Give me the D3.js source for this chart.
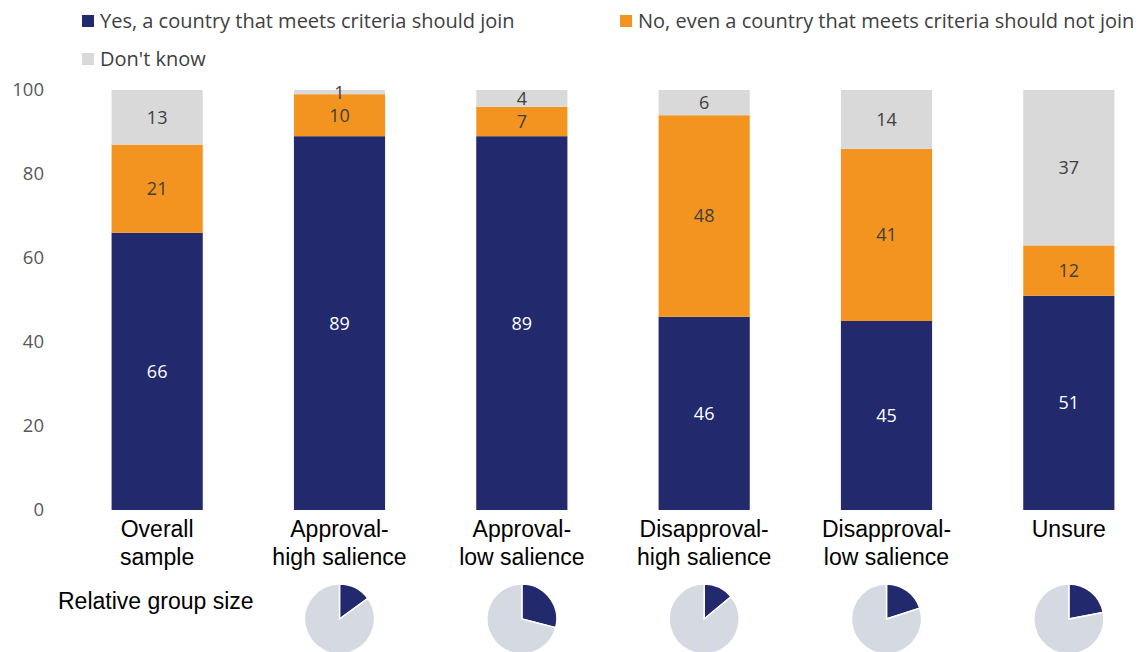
<!DOCTYPE html>
<html><head><meta charset="utf-8">
<script src="https://cdn.jsdelivr.net/npm/d3@7"></script>
<style>body{margin:0;background:#fff}svg{display:block}</style>
</head><body>
<svg id="c" width="1141" height="652"></svg>
<script>
const categories = [["Overall","sample"],["Approval-","high salience"],["Approval-","low salience"],["Disapproval-","high salience"],["Disapproval-","low salience"],["Unsure"]];
const seriesNames = ["Yes, a country that meets criteria should join","No, even a country that meets criteria should not join","Don't know"];
const yesValues = [66, 89, 89, 46, 45, 51];
const noValues = [21, 10, 7, 48, 41, 12];
const dkValues = [13, 1, 4, 6, 14, 37];
const groupSize = [null, 15, 29, 14, 20, 22];
const yTicks = [0, 20, 40, 60, 80, 100];
const colors = ["#22296d", "#f39420", "#d9d9d9"];

const svg = d3.select("#c");
const keys = categories.map((c,i)=>i);
const x = d3.scaleBand().domain(keys).range([66, 1160]).paddingInner(0.5).paddingOuter(0.25);
const y = d3.scaleLinear().domain([0, 100]).range([510, 90]);

const rows = keys.map(i => ({i, yes: yesValues[i], no: noValues[i], dk: dkValues[i]}));
const stack = d3.stack().keys(["yes","no","dk"])(rows);

// y axis
const yAxis = svg.append("g").attr("transform","translate(52,0)")
  .call(d3.axisLeft(y).tickValues(yTicks).tickSize(0).tickPadding(8));
yAxis.select(".domain").remove();
yAxis.selectAll("text").attr("font-family","Open Sans").attr("font-size",18.5).style("fill","#595959");

// bars
stack.forEach((s, si) => {
  const g = svg.append("g");
  g.selectAll("rect").data(s).enter().append("rect")
    .attr("x", d => x(d.data.i)).attr("width", x.bandwidth())
    .attr("y", d => y(d[1])).attr("height", d => y(d[0]) - y(d[1]))
    .attr("fill", colors[si]);
  g.selectAll("text").data(s).enter().append("text")
    .attr("x", d => x(d.data.i) + x.bandwidth()/2)
    .attr("y", d => (y(d[0]) + y(d[1]))/2)
    .attr("dy","0.36em").attr("text-anchor","middle")
    .attr("font-family","Open Sans").attr("font-size",18)
    .style("fill", si === 0 ? "#ffffff" : "#404040")
    .text(d => d[1] - d[0]);
});

// category labels
const cl = svg.append("g");
categories.forEach((c, i) => {
  const t = cl.append("text").attr("text-anchor","middle")
    .attr("font-family","Liberation Sans, Arial").attr("font-size",23).attr("fill","#000");
  c.forEach((line, li) => {
    t.append("tspan").attr("x", x(i) + x.bandwidth()/2).attr("y", 537 + li*28).text(line);
  });
});

// legend
const legendPos = [[82, 21], [620, 21], [82, 59]];
seriesNames.forEach((n, i) => {
  const [lx, ly] = legendPos[i];
  svg.append("rect").attr("x", lx).attr("y", ly - 6).attr("width", 12).attr("height", 12).attr("fill", colors[i]);
  svg.append("text").attr("x", lx + 18).attr("y", ly).attr("dy","0.36em")
    .attr("font-family","Open Sans").attr("font-size",20).style("fill","#404040").text(n);
});

// relative group size
svg.append("text").attr("x", 58).attr("y", 609).attr("font-family","Liberation Sans, Arial")
  .attr("font-size",23).attr("fill","#000").text("Relative group size");

const pie = d3.pie().sort(null).value(d => d);
const arc = d3.arc().innerRadius(0).outerRadius(35);
groupSize.forEach((v, i) => {
  if (v == null) return;
  const g = svg.append("g").attr("transform", `translate(${x(i) + x.bandwidth()/2},619)`);
  g.selectAll("path").data(pie([v, 100 - v])).enter().append("path")
    .attr("d", arc).attr("fill", (d, j) => j === 0 ? "#22296d" : "#d5d9e2")
    .attr("stroke","#fff").attr("stroke-width",1.5);
});
</script>
</body></html>
